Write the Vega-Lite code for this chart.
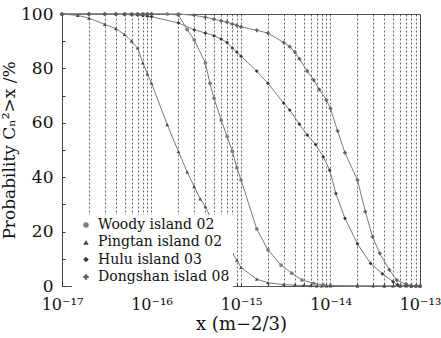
{
  "$schema": "https://vega.github.io/schema/vega-lite/v6.json",
  "width": 358,
  "height": 272,
  "autosize": {"type": "none"},
  "padding": {"left": 62, "top": 14, "right": 21, "bottom": 52},
  "config": {
    "font": "DejaVu Serif",
    "axis": {"labelFont": "DejaVu Serif", "titleFont": "DejaVu Serif"},
    "legend": {"labelFont": "DejaVu Serif", "titleFont": "DejaVu Serif"},
    "view": {"stroke": "#555", "strokeWidth": 1}
  },
  "datasets": {
    "d": [
      {"s": "Woody island 02", "x": 1e-17, "y": 100},
      {"s": "Woody island 02", "x": 2e-17, "y": 100},
      {"s": "Woody island 02", "x": 3e-17, "y": 100},
      {"s": "Woody island 02", "x": 4e-17, "y": 100},
      {"s": "Woody island 02", "x": 5e-17, "y": 100},
      {"s": "Woody island 02", "x": 6e-17, "y": 100},
      {"s": "Woody island 02", "x": 7e-17, "y": 100},
      {"s": "Woody island 02", "x": 8e-17, "y": 100},
      {"s": "Woody island 02", "x": 9e-17, "y": 100},
      {"s": "Woody island 02", "x": 1e-16, "y": 100},
      {"s": "Woody island 02", "x": 1.5e-16, "y": 100},
      {"s": "Woody island 02", "x": 2e-16, "y": 99.6},
      {"s": "Woody island 02", "x": 2.5e-16, "y": 94.3},
      {"s": "Woody island 02", "x": 3e-16, "y": 90.5},
      {"s": "Woody island 02", "x": 4e-16, "y": 82},
      {"s": "Woody island 02", "x": 4.5e-16, "y": 74.5},
      {"s": "Woody island 02", "x": 5e-16, "y": 69},
      {"s": "Woody island 02", "x": 6e-16, "y": 61},
      {"s": "Woody island 02", "x": 7e-16, "y": 55},
      {"s": "Woody island 02", "x": 8e-16, "y": 49.5},
      {"s": "Woody island 02", "x": 9e-16, "y": 43.5},
      {"s": "Woody island 02", "x": 1e-15, "y": 39},
      {"s": "Woody island 02", "x": 1.5e-15, "y": 21},
      {"s": "Woody island 02", "x": 2e-15, "y": 13.3},
      {"s": "Woody island 02", "x": 2.8e-15, "y": 7.7},
      {"s": "Woody island 02", "x": 3.7e-15, "y": 4.7},
      {"s": "Woody island 02", "x": 4.8e-15, "y": 2.2},
      {"s": "Woody island 02", "x": 6.5e-15, "y": 1},
      {"s": "Woody island 02", "x": 8.3e-15, "y": 0.4},
      {"s": "Woody island 02", "x": 1e-14, "y": 0.2},
      {"s": "Woody island 02", "x": 2e-14, "y": 0},
      {"s": "Woody island 02", "x": 4e-14, "y": 0},
      {"s": "Woody island 02", "x": 6e-14, "y": 0},
      {"s": "Woody island 02", "x": 8e-14, "y": 0},
      {"s": "Woody island 02", "x": 1e-13, "y": 0},

      {"s": "Pingtan island 02", "x": 1e-17, "y": 100},
      {"s": "Pingtan island 02", "x": 1.5e-17, "y": 99.5},
      {"s": "Pingtan island 02", "x": 2e-17, "y": 98.5},
      {"s": "Pingtan island 02", "x": 3e-17, "y": 96.2},
      {"s": "Pingtan island 02", "x": 4e-17, "y": 94.6},
      {"s": "Pingtan island 02", "x": 5e-17, "y": 92.5},
      {"s": "Pingtan island 02", "x": 6e-17, "y": 90},
      {"s": "Pingtan island 02", "x": 7e-17, "y": 87.5},
      {"s": "Pingtan island 02", "x": 8e-17, "y": 82},
      {"s": "Pingtan island 02", "x": 9e-17, "y": 78},
      {"s": "Pingtan island 02", "x": 1e-16, "y": 74.6},
      {"s": "Pingtan island 02", "x": 1.5e-16, "y": 59.3},
      {"s": "Pingtan island 02", "x": 2e-16, "y": 49.4},
      {"s": "Pingtan island 02", "x": 2.5e-16, "y": 42},
      {"s": "Pingtan island 02", "x": 3e-16, "y": 36.5},
      {"s": "Pingtan island 02", "x": 3.5e-16, "y": 32},
      {"s": "Pingtan island 02", "x": 4e-16, "y": 29.2},
      {"s": "Pingtan island 02", "x": 5e-16, "y": 22.5},
      {"s": "Pingtan island 02", "x": 6e-16, "y": 18.1},
      {"s": "Pingtan island 02", "x": 7e-16, "y": 15},
      {"s": "Pingtan island 02", "x": 8e-16, "y": 12},
      {"s": "Pingtan island 02", "x": 9e-16, "y": 9.5},
      {"s": "Pingtan island 02", "x": 1e-15, "y": 6.8},
      {"s": "Pingtan island 02", "x": 1.5e-15, "y": 2.5},
      {"s": "Pingtan island 02", "x": 2e-15, "y": 1.2},
      {"s": "Pingtan island 02", "x": 3e-15, "y": 0.5},
      {"s": "Pingtan island 02", "x": 4e-15, "y": 0.3},
      {"s": "Pingtan island 02", "x": 5e-15, "y": 0.2},
      {"s": "Pingtan island 02", "x": 6e-15, "y": 0.1},
      {"s": "Pingtan island 02", "x": 7e-15, "y": 0},
      {"s": "Pingtan island 02", "x": 8e-15, "y": 0},
      {"s": "Pingtan island 02", "x": 9e-15, "y": 0},
      {"s": "Pingtan island 02", "x": 1e-14, "y": 0},
      {"s": "Pingtan island 02", "x": 2e-14, "y": 0},
      {"s": "Pingtan island 02", "x": 3e-14, "y": 0},
      {"s": "Pingtan island 02", "x": 4e-14, "y": 0},
      {"s": "Pingtan island 02", "x": 5e-14, "y": 0},
      {"s": "Pingtan island 02", "x": 6e-14, "y": 0},
      {"s": "Pingtan island 02", "x": 7e-14, "y": 0},
      {"s": "Pingtan island 02", "x": 8e-14, "y": 0},
      {"s": "Pingtan island 02", "x": 9e-14, "y": 0},
      {"s": "Pingtan island 02", "x": 1e-13, "y": 0},

      {"s": "Hulu island 03", "x": 1e-17, "y": 100},
      {"s": "Hulu island 03", "x": 2e-17, "y": 100},
      {"s": "Hulu island 03", "x": 3e-17, "y": 100},
      {"s": "Hulu island 03", "x": 4e-17, "y": 99.9},
      {"s": "Hulu island 03", "x": 5e-17, "y": 99.8},
      {"s": "Hulu island 03", "x": 6e-17, "y": 99.7},
      {"s": "Hulu island 03", "x": 7e-17, "y": 99.6},
      {"s": "Hulu island 03", "x": 8e-17, "y": 99.4},
      {"s": "Hulu island 03", "x": 9e-17, "y": 99.2},
      {"s": "Hulu island 03", "x": 1e-16, "y": 99},
      {"s": "Hulu island 03", "x": 2e-16, "y": 96.7},
      {"s": "Hulu island 03", "x": 3e-16, "y": 94.2},
      {"s": "Hulu island 03", "x": 4e-16, "y": 93},
      {"s": "Hulu island 03", "x": 5e-16, "y": 92},
      {"s": "Hulu island 03", "x": 6e-16, "y": 90.8},
      {"s": "Hulu island 03", "x": 7e-16, "y": 89.5},
      {"s": "Hulu island 03", "x": 8e-16, "y": 87.5},
      {"s": "Hulu island 03", "x": 9e-16, "y": 86},
      {"s": "Hulu island 03", "x": 1e-15, "y": 84.5},
      {"s": "Hulu island 03", "x": 1.5e-15, "y": 79},
      {"s": "Hulu island 03", "x": 2e-15, "y": 74.5},
      {"s": "Hulu island 03", "x": 3e-15, "y": 67.2},
      {"s": "Hulu island 03", "x": 3.5e-15, "y": 64.7},
      {"s": "Hulu island 03", "x": 4.5e-15, "y": 59.5},
      {"s": "Hulu island 03", "x": 5.5e-15, "y": 55.5},
      {"s": "Hulu island 03", "x": 6.8e-15, "y": 52},
      {"s": "Hulu island 03", "x": 8.3e-15, "y": 47.5},
      {"s": "Hulu island 03", "x": 9.8e-15, "y": 42.6},
      {"s": "Hulu island 03", "x": 1.15e-14, "y": 34},
      {"s": "Hulu island 03", "x": 1.45e-14, "y": 24.9},
      {"s": "Hulu island 03", "x": 2e-14, "y": 15.5},
      {"s": "Hulu island 03", "x": 2.8e-14, "y": 8.3},
      {"s": "Hulu island 03", "x": 3.8e-14, "y": 4.5},
      {"s": "Hulu island 03", "x": 5e-14, "y": 1.6},
      {"s": "Hulu island 03", "x": 5.6e-14, "y": 0.5},
      {"s": "Hulu island 03", "x": 7e-14, "y": 0.2},
      {"s": "Hulu island 03", "x": 8e-14, "y": 0},
      {"s": "Hulu island 03", "x": 9e-14, "y": 0},
      {"s": "Hulu island 03", "x": 1e-13, "y": 0},

      {"s": "Dongshan islad 08", "x": 1e-17, "y": 100},
      {"s": "Dongshan islad 08", "x": 2e-17, "y": 100},
      {"s": "Dongshan islad 08", "x": 3e-17, "y": 100},
      {"s": "Dongshan islad 08", "x": 4e-17, "y": 100},
      {"s": "Dongshan islad 08", "x": 5e-17, "y": 100},
      {"s": "Dongshan islad 08", "x": 6e-17, "y": 100},
      {"s": "Dongshan islad 08", "x": 7e-17, "y": 100},
      {"s": "Dongshan islad 08", "x": 8e-17, "y": 100},
      {"s": "Dongshan islad 08", "x": 9e-17, "y": 100},
      {"s": "Dongshan islad 08", "x": 1e-16, "y": 100},
      {"s": "Dongshan islad 08", "x": 2e-16, "y": 100},
      {"s": "Dongshan islad 08", "x": 3e-16, "y": 99.5},
      {"s": "Dongshan islad 08", "x": 4e-16, "y": 98.8},
      {"s": "Dongshan islad 08", "x": 5e-16, "y": 98.1},
      {"s": "Dongshan islad 08", "x": 6e-16, "y": 97.5},
      {"s": "Dongshan islad 08", "x": 7e-16, "y": 97},
      {"s": "Dongshan islad 08", "x": 8e-16, "y": 96.3},
      {"s": "Dongshan islad 08", "x": 9e-16, "y": 95.8},
      {"s": "Dongshan islad 08", "x": 1e-15, "y": 95.3},
      {"s": "Dongshan islad 08", "x": 1.5e-15, "y": 94},
      {"s": "Dongshan islad 08", "x": 2e-15, "y": 93},
      {"s": "Dongshan islad 08", "x": 3e-15, "y": 89.5},
      {"s": "Dongshan islad 08", "x": 3.5e-15, "y": 88},
      {"s": "Dongshan islad 08", "x": 4e-15, "y": 86},
      {"s": "Dongshan islad 08", "x": 4.5e-15, "y": 83.5},
      {"s": "Dongshan islad 08", "x": 5.5e-15, "y": 79},
      {"s": "Dongshan islad 08", "x": 6.5e-15, "y": 75.7},
      {"s": "Dongshan islad 08", "x": 7.5e-15, "y": 72.2},
      {"s": "Dongshan islad 08", "x": 9e-15, "y": 68.4},
      {"s": "Dongshan islad 08", "x": 1e-14, "y": 65.3},
      {"s": "Dongshan islad 08", "x": 1.2e-14, "y": 57},
      {"s": "Dongshan islad 08", "x": 1.45e-14, "y": 49},
      {"s": "Dongshan islad 08", "x": 2e-14, "y": 39},
      {"s": "Dongshan islad 08", "x": 2.45e-14, "y": 27.3},
      {"s": "Dongshan islad 08", "x": 2.95e-14, "y": 18.1},
      {"s": "Dongshan islad 08", "x": 3.55e-14, "y": 12},
      {"s": "Dongshan islad 08", "x": 4.55e-14, "y": 5.9},
      {"s": "Dongshan islad 08", "x": 5.5e-14, "y": 2.2},
      {"s": "Dongshan islad 08", "x": 7e-14, "y": 0.7},
      {"s": "Dongshan islad 08", "x": 8e-14, "y": 0.2},
      {"s": "Dongshan islad 08", "x": 9e-14, "y": 0},
      {"s": "Dongshan islad 08", "x": 1e-13, "y": 0}
    ]
  },
  "data": {"name": "d"},
  "encoding": {
    "x": {
      "field": "x",
      "type": "quantitative",
      "scale": {"type": "log", "domain": [1e-17, 1e-13]},
      "axis": {
        "title": "x (m−2/3)",
        "titleFontSize": 18,
        "titleFontWeight": "normal",
        "titleColor": "#111",
        "titlePadding": 3,
        "labelFontSize": 16,
        "labelColor": "#111",
        "labelPadding": 13,
        "labelFlush": false,
        "labelOverlap": false,
        "domain": false,
        "ticks": true,
        "tickSize": -3,
        "tickColor": "#333",
        "grid": true,
        "gridDash": [2, 2],
        "gridColor": "#222",
        "gridWidth": 0.8,
        "gridOpacity": 0.85,
        "values": [1e-17, 2e-17, 3e-17, 4e-17, 5e-17, 6e-17, 7e-17, 8e-17, 9e-17,
                   1e-16, 2e-16, 3e-16, 4e-16, 5e-16, 6e-16, 7e-16, 8e-16, 9e-16,
                   1e-15, 2e-15, 3e-15, 4e-15, 5e-15, 6e-15, 7e-15, 8e-15, 9e-15,
                   1e-14, 2e-14, 3e-14, 4e-14, 5e-14, 6e-14, 7e-14, 8e-14, 9e-14, 1e-13],
        "labelExpr": "datum.value == 1e-17 ? '10⁻¹⁷' : datum.value == 1e-16 ? '10⁻¹⁶' : datum.value == 1e-15 ? '10⁻¹⁵' : datum.value == 1e-14 ? '10⁻¹⁴' : datum.value == 1e-13 ? '10⁻¹³' : ''"
      }
    },
    "y": {
      "field": "y",
      "type": "quantitative",
      "scale": {"domain": [0, 100], "nice": false},
      "axis": {
        "title": "Probability Cₙ²>x /%",
        "titleFontSize": 17,
        "titleFontWeight": "normal",
        "titleColor": "#111",
        "titlePadding": 2,
        "labelFontSize": 17,
        "labelColor": "#111",
        "labelPadding": 12,
        "values": [0, 10, 20, 30, 40, 50, 60, 70, 80, 90, 100],
        "labelExpr": "datum.value % 20 == 0 ? datum.label : ''",
        "labelOverlap": false,
        "domain": false,
        "ticks": true,
        "tickSize": -3,
        "tickColor": "#333",
        "grid": false
      }
    }
  },
  "layer": [
    {
      "mark": {"type": "line", "strokeWidth": 1, "color": "#7a7a7a"},
      "encoding": {"detail": {"field": "s"}}
    },
    {
      "mark": {"type": "point", "filled": true, "size": 14, "opacity": 1},
      "encoding": {
        "color": {
          "field": "s",
          "type": "nominal",
          "scale": {
            "domain": ["Woody island 02", "Pingtan island 02", "Hulu island 03", "Dongshan islad 08"],
            "range": ["#7d7d7d", "#4a4a4a", "#353535", "#5e5e5e"]
          },
          "legend": {
            "orient": "none",
            "legendX": 10,
            "legendY": 201,
            "title": null,
            "fillColor": "white",
            "padding": 3,
            "labelFontSize": 14,
            "labelColor": "#111",
            "labelOffset": 5,
            "symbolSize": 30,
            "symbolOffset": 4,
            "rowPadding": 3.3
          }
        },
        "shape": {
          "field": "s",
          "type": "nominal",
          "scale": {
            "domain": ["Woody island 02", "Pingtan island 02", "Hulu island 03", "Dongshan islad 08"],
            "range": ["circle", "triangle-up", "diamond", "cross"]
          }
        }
      }
    }
  ]
}
